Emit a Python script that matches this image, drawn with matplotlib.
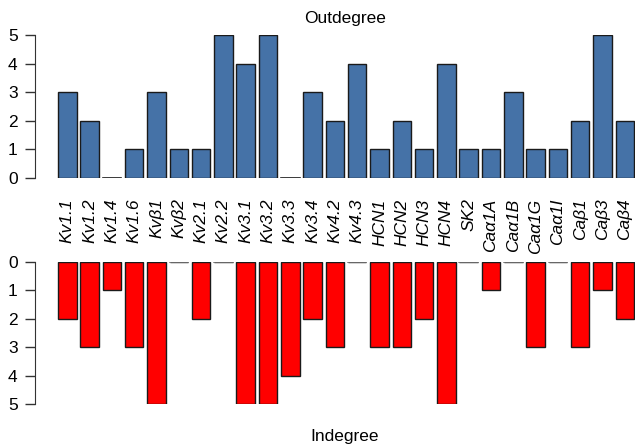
import matplotlib
matplotlib.use("Agg")
import matplotlib.pyplot as plt
import numpy as np

plt.rcParams['font.family'] = ['Liberation Sans', 'DejaVu Sans']

categories = ["Kv1.1", "Kv1.2", "Kv1.4", "Kv1.6", "Kvβ1", "Kvβ2", "Kv2.1", "Kv2.2",
              "Kv3.1", "Kv3.2", "Kv3.3", "Kv3.4", "Kv4.2", "Kv4.3", "HCN1", "HCN2",
              "HCN3", "HCN4", "SK2", "Caα1A", "Caα1B", "Caα1G", "Caα1I", "Caβ1",
              "Caβ3", "Caβ4"]
outdegree = [3, 2, 0, 1, 3, 1, 1, 5, 4, 5, 0, 3, 2, 4, 1, 2, 1, 4, 1, 1, 3, 1, 1, 2, 5, 2]
indegree = [2, 3, 1, 3, 5, 0, 2, 0, 5, 5, 4, 2, 3, 0, 3, 3, 2, 5, 0, 1, 0, 3, 0, 3, 1, 2]
yticks = [0, 1, 2, 3, 4, 5]

W, H = 635, 444
fig = plt.figure(figsize=(W / 100, H / 100), dpi=100)

def ax_rect(x0, y0, x1, y1):
    return [x0 / W, 1 - y1 / H, (x1 - x0) / W, (y1 - y0) / H]

x = 0.7 + 1.2 * np.arange(len(categories))
scale = 22.3 / 1.2
xl = 0.2 - (58 - 35) / scale
xr = 0.2 + (635 - 58) / scale

ax1 = fig.add_axes(ax_rect(35, 35, 635, 178))
ax1.bar(x, outdegree, width=1.0, color='#4572a7', edgecolor='#1a1a1a', linewidth=1.0)
for xi, v in zip(x, outdegree):
    if v == 0:
        ax1.plot([xi - 0.5, xi + 0.5], [0, 0], color='#222222', lw=1.2)
ax1.set_ylim(0, 5)
ax1.set_xlim(xl, xr)

ax2 = fig.add_axes(ax_rect(35, 262, 635, 404))
ax2.bar(x, indegree, width=1.0, color='#ff0000', edgecolor='#1a1a1a', linewidth=1.0)
for xi, v in zip(x, indegree):
    if v == 0:
        ax2.plot([xi - 0.5, xi + 0.5], [0, 0], color='#777777', lw=1.2)
ax2.set_ylim(5, 0)
ax2.set_xlim(xl, xr)

for ax in (ax1, ax2):
    for s in ('top', 'right', 'bottom'):
        ax.spines[s].set_visible(False)
    ax.spines['left'].set_bounds(0, 5)
    ax.spines['left'].set_color('#333333')
    ax.set_yticks(yticks)
    ax.set_yticklabels([str(t) for t in yticks], fontsize=12.5)
    ax.tick_params(axis='y', length=7.5, width=1, color='#333333', pad=5)
    ax.set_xticks([])

for xi, lab in zip(x, categories):
    ax1.text(xi, -0.72, lab, rotation=90, ha='center', va='top', fontsize=12.5,
             style='italic')

fig.text(345 / W, 1 - 19 / H, "Outdegree", ha='center', va='center', fontsize=12.5)
fig.text(345 / W, 1 - 436 / H, "Indegree", ha='center', va='center', fontsize=12.5)

fig.savefig("out.png", dpi=100)
